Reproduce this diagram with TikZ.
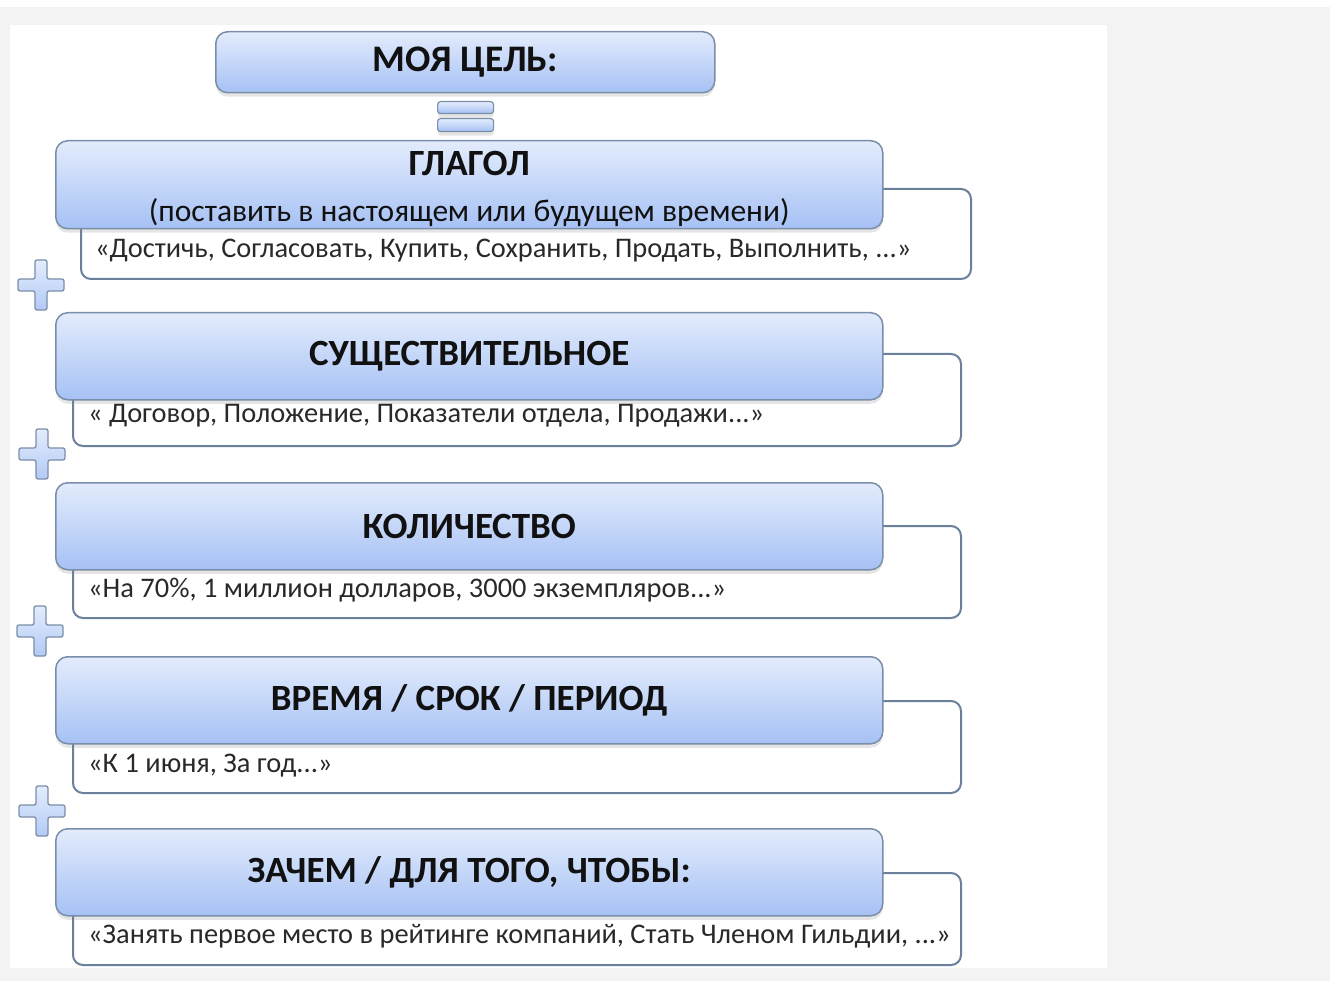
\documentclass[tikz,border=0pt]{standalone}
\usepackage{fontspec}
\setmainfont{Carlito}
\usetikzlibrary{shadows}
\definecolor{boxtop}{HTML}{E3ECFC}
\definecolor{boxbot}{HTML}{A6C1F5}
\definecolor{boxline}{HTML}{7B8EA8}
\definecolor{backline}{HTML}{6B809B}
\definecolor{pagegray}{HTML}{F3F3F3}
\definecolor{inktext}{HTML}{111111}

\begin{document}
\begin{tikzpicture}[x=1pt,y=-1pt,line join=round]
\tikzset{mainbox/.style={rectangle,rounded corners=12pt,draw=boxline,line width=1.5pt,
    top color=boxtop,bottom color=boxbot,inner sep=0pt,anchor=north west,
    drop shadow={shadow xshift=0pt,shadow yshift=-4pt,opacity=0.2},
    font=\fontsize{37}{45}\selectfont\bfseries,text=inktext,align=center},
  backbox/.style={rectangle,rounded corners=10pt,draw=backline,line width=2pt,
    fill=white,inner sep=0pt,anchor=north west},
  extext/.style={anchor=west,inner sep=0pt,font=\fontsize{28.4}{32}\selectfont,text=inktext!90},
  plussign/.style={draw=boxline,line width=1.3pt,rounded corners=2pt,top color=boxtop,bottom color=boxbot!85}}
\useasboundingbox (0,0) rectangle (1330,981);
\fill[white] (0,0) rectangle (1330,981);
\fill[pagegray] (0,7) rectangle (1330,981);
\fill[white] (10,25) rectangle (1107,968);
% goal and equals sign
\node[mainbox,minimum width=499pt,minimum height=61pt,font=\fontsize{37.5}{44}\selectfont\bfseries] (goal) at (215,31) {МОЯ ЦЕЛЬ:};
\node[mainbox,rounded corners=3pt,line width=1.2pt,minimum width=56pt,minimum height=12pt,drop shadow={opacity=0}] (eqa) at (437,101) {};
\node[mainbox,rounded corners=3pt,line width=1.2pt,minimum width=56pt,minimum height=13pt,drop shadow={opacity=0}] (eqb) at (437,118) {};
% verb block
\node[backbox,minimum width=890pt,minimum height=90pt] (back1) at (80,188) {};
\node[mainbox,minimum width=827pt,minimum height=88pt] (main1) at (55,140) {};
\node[font=\fontsize{37}{45}\selectfont\bfseries,text=inktext,align=center,inner sep=0pt] (title1)
  at ([yshift=-4pt]main1.center) {ГЛАГОЛ\\[1pt]{\fontsize{31.5}{36}\selectfont\mdseries(поставить в настоящем или будущем времени)}};
\node[extext] (ex1) at (95,251) {«Достичь, Согласовать, Купить, Сохранить, Продать, Выполнить, ...»};
% other blocks
\foreach \i/\top/\btop/\ey/\txt/\ex in {2/312/353/416/{СУЩЕСТВИТЕЛЬНОЕ}/{« Договор, Положение, Показатели отдела, Продажи...»},
    3/482/525/590/{КОЛИЧЕСТВО}/{«На 70\%, 1 миллион долларов, 3000 экземпляров...»},
    4/656/700/766/{ВРЕМЯ / СРОК / ПЕРИОД}/{«К 1 июня, За год...»},
    5/828/872/936/{ЗАЧЕМ / ДЛЯ ТОГО, ЧТОБЫ:}/{«Занять первое место в рейтинге компаний, Стать Членом Гильдии, ...»}}{
  \node[backbox,minimum width=888pt,minimum height=92pt] (back\i) at (72,\btop) {};
  \node[mainbox,minimum width=827pt,minimum height=87pt] (main\i) at (55,\top) {\txt};
  \node[extext] (ex\i) at (88,\ey) {\ex};
}
% plus signs
\foreach \px/\py in {41/285,42/454,40/631,42/811}
  \draw[plussign] (\px,\py) ++(-6,-25) --++(12,0) --++(0,19) --++(17,0) --++(0,12) --++(-17,0)
    --++(0,19) --++(-12,0) --++(0,-19) --++(-17,0) --++(0,-12) --++(17,0) -- cycle;
\end{tikzpicture}
\end{document}
